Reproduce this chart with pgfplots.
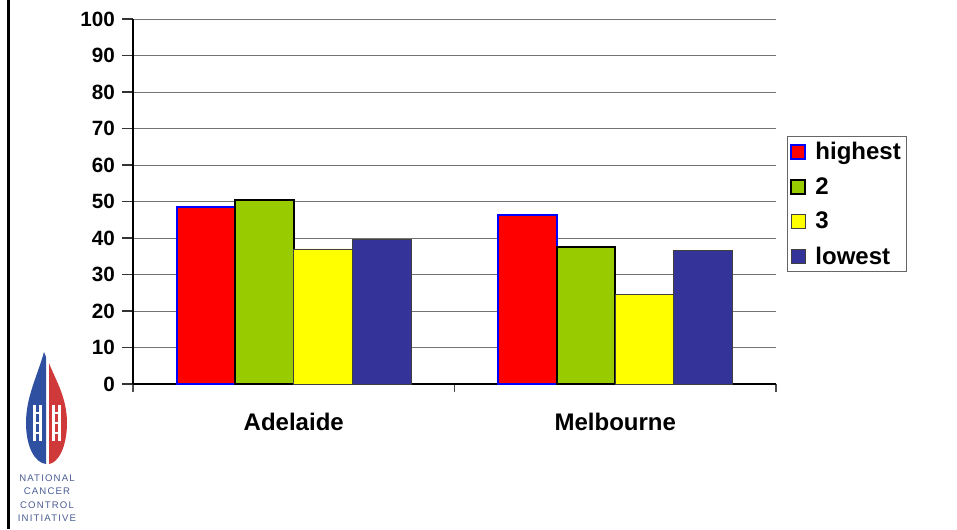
\documentclass[border=0pt]{standalone}
\usepackage{fontspec}
\setmainfont{Liberation Sans}
\usepackage{pgfplots}
\pgfplotsset{compat=1.18}

\definecolor{barRed}{HTML}{FF0000}
\definecolor{barGreen}{HTML}{99CC00}
\definecolor{barYellow}{HTML}{FFFF00}
\definecolor{barNavy}{HTML}{333399}
\definecolor{logoBlue}{HTML}{2F4FA0}
\definecolor{logoRed}{HTML}{D0393A}
\definecolor{logoText}{HTML}{4A5C92}

\begin{document}
\begin{tikzpicture}
% page frame: 957 x 529 px at 0.75pt per px
\useasboundingbox (0,0) rectangle (717.75pt,396.75pt);
\fill[black] (5.2pt,0) rectangle (7.6pt,396.75pt);

% logo
\begin{scope}[x=0.75pt,y=0.75pt]
  \fill[logoBlue] (44,177) .. controls (37,152) and (26,132) .. (26,106)
        .. controls (26,82) and (35,66) .. (46,65) -- (46,172) -- cycle;
  \fill[logoRed] (49,166) .. controls (55,150) and (67,132) .. (67,106)
        .. controls (67,82) and (58,66) .. (49,65) -- cycle;
  \foreach \xx in {33,39,52,58}{
    \fill[white] (\xx,88) rectangle (\xx+3,124);
  }
  \foreach \xx in {33,52}{
    \fill[white] (\xx,95) rectangle (\xx+9,97.5);
    \fill[white] (\xx,105) rectangle (\xx+9,107.5);
    \fill[white] (\xx,115) rectangle (\xx+9,117.5);
  }
  \begin{scope}[font=\addfontfeature{LetterSpace=12}\fontsize{7.2}{8}\selectfont, text=logoText]
    \node at (47,51) {NATIONAL};
    \node at (47,38) {CANCER};
    \node at (47,24) {CONTROL};
    \node at (47,11) {INITIATIVE};
  \end{scope}
\end{scope}

\begin{axis}[
  at={(99.75pt,108.75pt)}, anchor=south west,
  scale only axis, width=482.25pt, height=273.75pt,
  ybar=0pt, bar width=0.1823,
  xmin=-0.5, xmax=1.5, ymin=0, ymax=100,
  axis x line=bottom, axis y line=left,
  axis line style={-, black, line width=0.9pt},
  xtick={0,1}, xticklabels={Adelaide,Melbourne},
  minor xtick={-0.5,0.5,1.5},
  x tick style={draw=none},
  minor x tick style={draw=black!70, line width=0.8pt},
  ytick={0,10,...,100},
  y tick style={draw=black!80, line width=0.8pt},
  tick align=outside,
  major tick length=8pt, minor tick length=6pt,
  ymajorgrids, grid style={draw=black!55, line width=0.7pt},
  /pgf/number format/assume math mode=true,
  yticklabel style={font=\fontsize{15.5}{18}\selectfont\bfseries, xshift=-2pt},
  xticklabel style={font=\fontsize{18}{20}\selectfont\bfseries, yshift=-10pt},
  legend style={at={(1.017,0.679)}, anchor=north west,
    draw=black!60, line width=0.8pt,
    font=\fontsize{18}{20}\selectfont\bfseries,
    row sep=8pt, inner xsep=2pt, inner ysep=2pt},
  legend cell align=left,
  legend image code/.code={
    \draw[#1] (2.5pt,-5.3pt) rectangle (13pt,5.3pt);
    \path (18pt,0pt);},
]
\addplot[fill=barRed, draw=blue, line width=1.5pt] coordinates {(0,48.6) (1,46.4)};
\addplot[fill=barGreen, draw=black, line width=1.5pt] coordinates {(0,50.5) (1,37.4)};
\addplot[fill=barYellow, draw=black!75, line width=0.6pt] coordinates {(0,37.0) (1,24.6)};
\addplot[fill=barNavy, draw=black!75, line width=0.6pt] coordinates {(0,39.5) (1,36.6)};
\legend{highest,2,3,lowest}
\end{axis}
\end{tikzpicture}
\end{document}
